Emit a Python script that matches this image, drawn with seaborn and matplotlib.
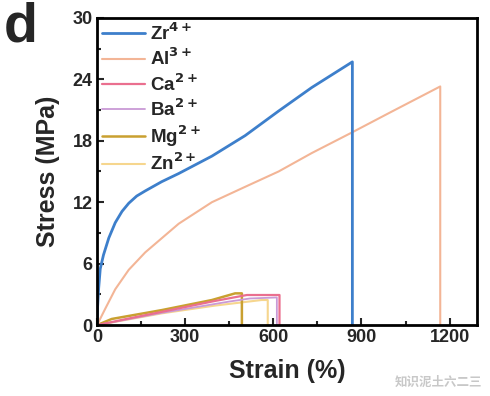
import pandas as pd
import matplotlib.pyplot as plt
import seaborn as sns
from matplotlib.ticker import MultipleLocator
import matplotlib.lines as mlines

sns.set_theme(style='white')
plt.rcParams['font.family'] = ['Liberation Sans', 'DejaVu Sans']
plt.rcParams['font.weight'] = 'bold'
plt.rcParams['mathtext.default'] = 'bf'

# stress-strain curves (strain %, stress MPa)
zr_strain = [0, 2, 5.6, 11, 22, 40, 62, 85, 108, 135, 164, 220, 278, 391, 504, 618, 731, 869, 869]
zr_stress = [0, 1.8, 3.6, 5.5, 6.85, 8.5, 10.0, 11.1, 11.9, 12.6, 13.1, 14.0, 14.8, 16.5, 18.5, 20.9, 23.2, 25.7, 0]

al_strain = [0, 28, 62, 108, 164, 278, 391, 504, 618, 731, 867, 1000, 1168, 1168]
al_stress = [0, 1.6, 3.5, 5.4, 7.1, 9.9, 12.0, 13.5, 15.0, 16.8, 18.8, 20.8, 23.3, 0]

ca_strain = [0, 100, 221, 391, 493, 510, 621, 621]
ca_stress = [0, 0.6, 1.3, 2.3, 2.85, 2.94, 2.94, 0]

ba_strain = [0, 221, 450, 520, 612, 612]
ba_stress = [0, 1.2, 2.3, 2.6, 2.7, 0]

mg_strain = [0, 50, 221, 391, 470, 493, 493]
mg_stress = [0, 0.6, 1.47, 2.45, 3.1, 3.1, 0]

zn_strain = [0, 221, 400, 560, 581, 581]
zn_stress = [0, 1.15, 1.9, 2.45, 2.45, 0]

ions = ['Zr$^{4+}$', 'Al$^{3+}$', 'Ca$^{2+}$', 'Ba$^{2+}$', 'Mg$^{2+}$', 'Zn$^{2+}$']
colors = ['#3d7fcb', '#f3b596', '#ea6f8f', '#c99ad6', '#c9a030', '#f6d68e']
widths = [2.0, 1.5, 1.6, 1.3, 1.8, 1.5]

curves = [(zr_strain, zr_stress), (al_strain, al_stress), (ca_strain, ca_stress),
          (ba_strain, ba_stress), (mg_strain, mg_stress), (zn_strain, zn_stress)]

rows = []
for ion, (xs, ys) in zip(ions, curves):
    for i, (x, y) in enumerate(zip(xs, ys)):
        rows.append({'ion': ion, 'order': i, 'strain': x, 'stress': y})
df = pd.DataFrame(rows)

fig = plt.figure(figsize=(4.9, 3.96), dpi=100)
ax = fig.add_axes([0.198, 0.179, 0.776, 0.776])

# draw back to front so Zr sits on top
for ion, c, lw in list(zip(ions, colors, widths))[::-1]:
    sub = df[df['ion'] == ion]
    sns.lineplot(data=sub, x='strain', y='stress', sort=False, estimator=None,
                 color=c, linewidth=lw, ax=ax, legend=False)

ax.set_xlim(0, 1294)
ax.set_ylim(0, 30)
ax.xaxis.set_major_locator(MultipleLocator(300))
ax.xaxis.set_minor_locator(MultipleLocator(150))
ax.yaxis.set_major_locator(MultipleLocator(6))
ax.yaxis.set_minor_locator(MultipleLocator(3))
ax.tick_params(which='both', direction='in', bottom=True, left=True,
               labelsize=13, width=1.5, pad=3)
ax.tick_params(which='major', length=5)
ax.tick_params(which='minor', length=3)
for s in ax.spines.values():
    s.set_linewidth(2)
    s.set_color('black')
for lab in ax.get_xticklabels() + ax.get_yticklabels():
    lab.set_fontweight('bold')

ax.set_xlabel('Strain (%)', fontsize=18, fontweight='bold', labelpad=9)
ax.set_ylabel('Stress (MPa)', fontsize=18, fontweight='bold', labelpad=9)

handles = [mlines.Line2D([], [], color=c, linewidth=lw) for c, lw in zip(colors, widths)]
ax.legend(handles, ions, loc='upper left', frameon=False,
          handlelength=2.3, handletextpad=0.3, labelspacing=0.2,
          borderpad=0.2, borderaxespad=0.05, prop={'weight': 'bold', 'size': 13.5})

fig.text(0.008, 0.995, 'd', fontsize=40, fontweight='bold', va='top', ha='left')
fig.text(0.985, 0.018, '知识泥土六二三', fontsize=9, color='#c8c8c8',
         family=['Noto Sans CJK SC', 'DejaVu Sans'], ha='right', va='bottom')

fig.savefig('out.png', dpi=100)
